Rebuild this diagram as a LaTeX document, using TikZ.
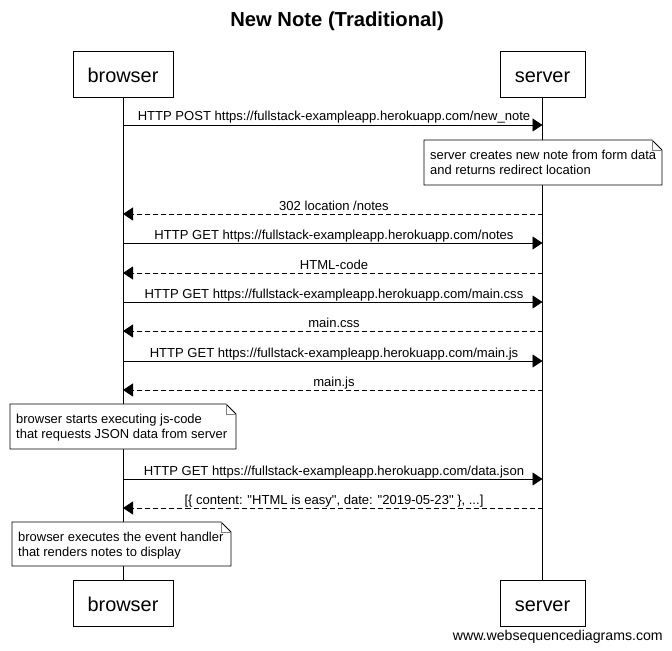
\documentclass[tikz,border=0pt]{standalone}
\usepackage{fontspec}
\setmainfont{Liberation Sans}
\usetikzlibrary{arrows.meta}
\begin{document}
\begin{tikzpicture}[x=1bp,y=-1bp,
  actor/.style={draw,line width=0.8bp,minimum width=#1,minimum height=46bp,inner sep=0pt,text height=17bp,text depth=0bp,font=\fontsize{20}{22}\selectfont},
  life/.style={line width=0.8bp},
  msg/.style={line width=0.8bp,-{Triangle[length=10bp,width=13bp]}},
  ret/.style={msg,dash pattern=on 5bp off 3bp},
  lbl/.style={font=\fontsize{13.1}{15}\selectfont,inner sep=0pt,anchor=base},
  notetext/.style={font=\fontsize{13}{15}\selectfont,align=left,anchor=north west,inner sep=0pt}
]
\useasboundingbox (0,0) rectangle (672,651);
\node[font=\bfseries\fontsize{20.3}{23}\selectfont] (title) at (337,21) {New Note (Traditional)};
\node[actor=100bp] (bt) at (123,74) {browser};
\node[actor=85bp] (st) at (542.5,74) {server};
\node[actor=100bp] (bb) at (123,603) {browser};
\node[actor=85bp] (sb) at (542.5,603) {server};
\draw[life] (bt.south) -- (bb.north);
\draw[life] (st.south) -- (sb.north);
% messages
\foreach \y/\dir/\t [count=\i] in {
 125/0/{HTTP POST https://fullstack-exampleapp.herokuapp.com/new\_note},
 214/1/{302 location /notes},
 243/0/{HTTP GET https://fullstack-exampleapp.herokuapp.com/notes},
 273/1/{HTML-code},
 302/0/{HTTP GET https://fullstack-exampleapp.herokuapp.com/main.css},
 331/1/{main.css},
 361/0/{HTTP GET https://fullstack-exampleapp.herokuapp.com/main.js},
 390/1/{main.js},
 479/0/{HTTP GET https://fullstack-exampleapp.herokuapp.com/data.json},
 508/1/{[\{ content: \textquotedbl HTML is easy\textquotedbl, date: \textquotedbl 2019-05-23\textquotedbl\ \}, ...]}}{
  \coordinate (b\i) at (123,\y);
  \coordinate (s\i) at (542.5,\y);
  \ifnum\dir=0
    \draw[msg] (b\i) -- (s\i);
  \else
    \draw[ret] (s\i) -- (b\i);
  \fi
  \node[lbl] (l\i) at (334,\y-4) {\t};
}
% notes
\newcommand\mynote[5]{% x1 y1 x2 y2 name
  \draw[fill=white,line width=0.8bp] (#1,#2) -- (#3-10,#2) -- (#3,#2+10) -- (#3,#4) -- (#1,#4) -- cycle;
  \draw[line width=0.6bp,gray] (#3-10,#2) -- (#3-10,#2+10) -- (#3,#2+10);
  \coordinate (#5) at (#1+6,#2+10);
}
\mynote{424}{140}{662}{185}{n1}
\node[notetext] (n1t) at (n1) {server creates new note from form data\\and returns redirect location};
\mynote{10}{404}{236}{449}{n2}
\node[notetext] (n2t) at (n2) {browser starts executing js-code\\that requests JSON data from server};
\mynote{12}{522}{231}{566}{n3}
\node[notetext] (n3t) at (n3) {browser executes the event handler\\that renders notes to display};
\node[font=\fontsize{14.2}{16}\selectfont,anchor=base east,inner sep=0pt] (foot) at (663,640) {www.websequencediagrams.com};
\end{tikzpicture}
\end{document}
